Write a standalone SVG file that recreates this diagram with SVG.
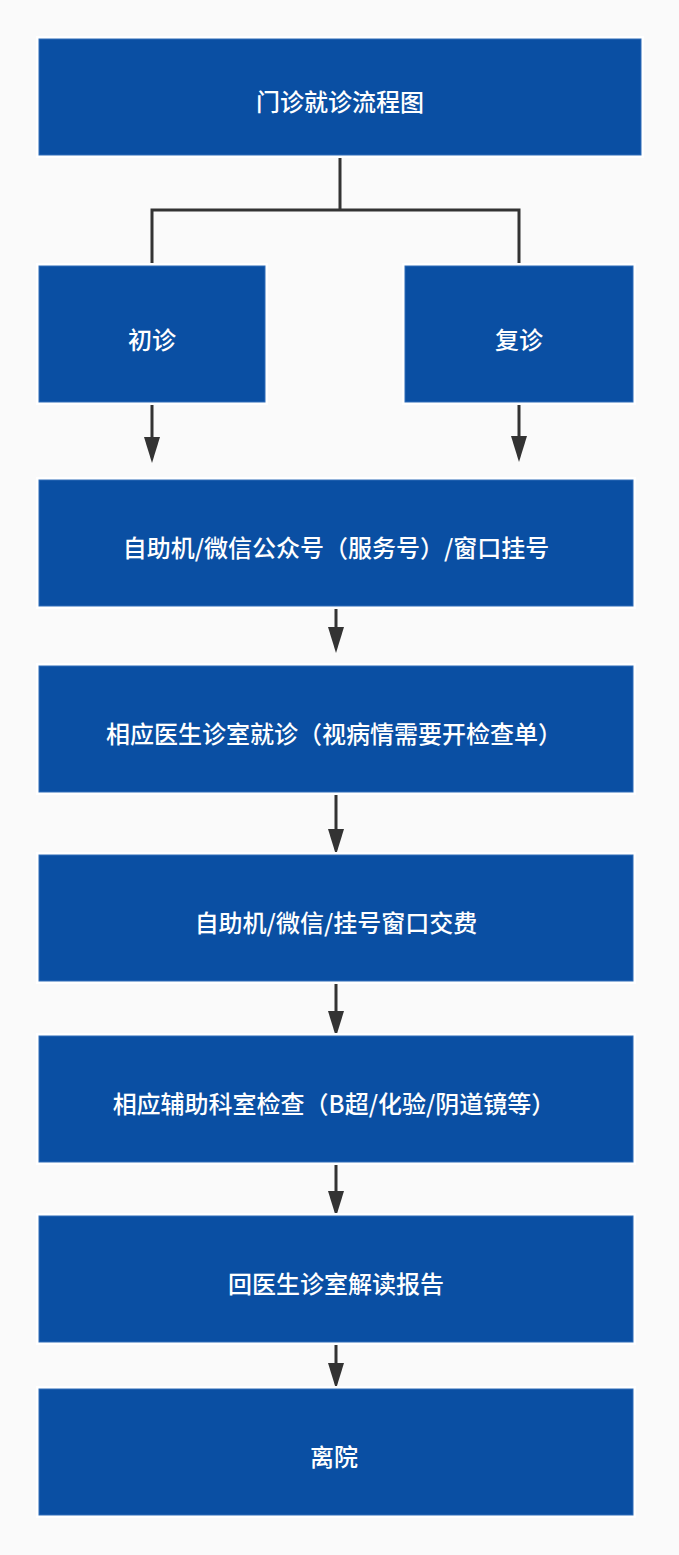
<svg xmlns="http://www.w3.org/2000/svg" width="679" height="1555" viewBox="0 0 679 1555">
<style>
.halo{fill:#ffffff}
.box{fill:#0A4FA3;stroke:#2f6cb8;stroke-width:1}
.lbl{fill:#ffffff;font-family:"Microsoft YaHei","Noto Sans CJK SC","Noto Sans",sans-serif;font-size:24px;font-weight:500;text-anchor:middle;dominant-baseline:central}
.ln{fill:none;stroke:#333333;stroke-width:3}
</style>
<defs>
<marker id="ah" markerUnits="userSpaceOnUse" markerWidth="27" markerHeight="17" refX="0" refY="8" orient="auto" viewBox="0 0 27 16">
<path d="M0,0 L26,8 L0,16 Z" fill="#333333"/>
</marker>
</defs>
<rect width="679" height="1555" fill="#FAFAFA"/>
<g id="connectors">
<path class="ln" d="M340,155 V210 H152 V265 M340,210 H519 V265"/>
<line class="ln" x1="152" y1="404" x2="152" y2="437" marker-end="url(#ah)"/>
<line class="ln" x1="519" y1="404" x2="519" y2="436" marker-end="url(#ah)"/>
<line class="ln" x1="336" y1="608" x2="336" y2="627" marker-end="url(#ah)"/>
<line class="ln" x1="336" y1="794" x2="336" y2="829" marker-end="url(#ah)"/>
<line class="ln" x1="336" y1="983" x2="336" y2="1011" marker-end="url(#ah)"/>
<line class="ln" x1="336" y1="1165" x2="336" y2="1191" marker-end="url(#ah)"/>
<line class="ln" x1="336" y1="1345" x2="336" y2="1363" marker-end="url(#ah)"/>
</g>
<g id="title">
<rect class="halo" x="36" y="36" width="608" height="122"/>
<rect class="box" x="39" y="39" width="602" height="116"/>
<text class="lbl" x="340" y="100">门诊就诊流程图</text>
</g>
<g id="chuzhen">
<rect class="halo" x="36" y="263" width="232" height="142"/>
<rect class="box" x="39" y="266" width="226" height="136"/>
<text class="lbl" x="152" y="338">初诊</text>
</g>
<g id="fuzhen">
<rect class="halo" x="402" y="263" width="234" height="142"/>
<rect class="box" x="405" y="266" width="228" height="136"/>
<text class="lbl" x="519" y="338">复诊</text>
</g>
<g id="guahao">
<rect class="halo" x="36" y="477" width="600" height="132"/>
<rect class="box" x="39" y="480" width="594" height="126"/>
<text class="lbl" x="336" y="546">自助机/微信公众号（服务号）/窗口挂号</text>
</g>
<g id="jiuzhen">
<rect class="halo" x="36" y="663" width="600" height="132"/>
<rect class="box" x="39" y="666" width="594" height="126"/>
<text class="lbl" x="334" y="732">相应医生诊室就诊（视病情需要开检查单）</text>
</g>
<g id="jiaofei">
<rect class="halo" x="36" y="852" width="600" height="132"/>
<rect class="box" x="39" y="855" width="594" height="126"/>
<text class="lbl" x="336" y="921">自助机/微信/挂号窗口交费</text>
</g>
<g id="jiancha">
<rect class="halo" x="36" y="1033" width="600" height="132"/>
<rect class="box" x="39" y="1036" width="594" height="126"/>
<text class="lbl" x="334" y="1102">相应辅助科室检查（B超/化验/阴道镜等）</text>
</g>
<g id="baogao">
<rect class="halo" x="36" y="1213" width="600" height="132"/>
<rect class="box" x="39" y="1216" width="594" height="126"/>
<text class="lbl" x="336" y="1282">回医生诊室解读报告</text>
</g>
<g id="liyuan">
<rect class="halo" x="36" y="1386" width="600" height="132"/>
<rect class="box" x="39" y="1389" width="594" height="126"/>
<text class="lbl" x="334" y="1455">离院</text>
</g>
</svg>
